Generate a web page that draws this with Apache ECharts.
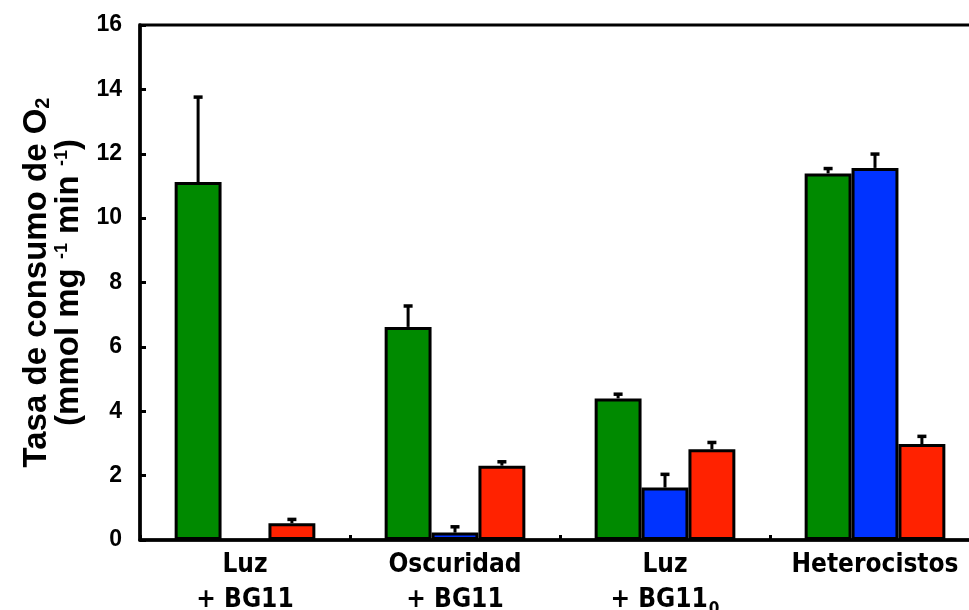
<!DOCTYPE html>
<html>
<head>
<meta charset="utf-8">
<style>
  html, body { margin: 0; padding: 0; background: #fff; overflow: hidden; }
  #chart { width: 969px; height: 610px; }
</style>
<script src="https://cdn.jsdelivr.net/npm/echarts@6/dist/echarts.min.js"></script>
</head>
<body>
<div id="chart"></div>
<script>
// Categories (first line, second line, subscript on second line)
const categories = ['Luz', 'Oscuridad', 'Luz', 'Heterocistos'];
const categoryLine2 = ['+ BG11', '+ BG11', '+ BG11', ''];
const categorySub = ['', '', '0', ''];

// O2 consumption rates (mmol mg-1 min-1) and their standard errors
const greenValues = [11.12, 6.62, 4.40, 11.39];
const greenErrors = [2.64, 0.65, 0.13, 0.15];
const blueValues = [null, 0.23, 1.63, 11.56];
const blueErrors = [null, 0.18, 0.41, 0.43];
const redValues = [0.52, 2.31, 2.82, 2.98];
const redErrors = [0.12, 0.12, 0.21, 0.24];

// Y axis range
const yMin = 0, yMax = 16, yStep = 2;

const GREEN = '#008a00', BLUE = '#0033ff', RED = '#ff2200';
const CAT_GAP = 0.33;

const boldFont = '"Liberation Sans", Arial, Helvetica, sans-serif';
const narrowFont = '"Liberation Sans Narrow", "DejaVu Sans Condensed", "Liberation Sans", sans-serif';

function barSeries(values, color) {
  return {
    type: 'bar',
    data: values,
    barGap: '0%',
    barCategoryGap: (CAT_GAP * 100) + '%',
    itemStyle: { color: color, borderColor: '#000', borderWidth: 3 },
    z: 3
  };
}

function errorSeries(values, errors, slot) {
  const data = [];
  values.forEach((v, i) => {
    if (v != null) data.push([i, v, v + errors[i]]);
  });
  return {
    type: 'custom',
    data: data,
    z: 2,
    encode: { x: 0, y: [1, 2] },
    renderItem: function (params, api) {
      const c = api.value(0);
      const lo = api.coord([c, api.value(1)]);
      const hi = api.coord([c, api.value(2)]);
      const band = api.size([1, 0])[0];
      const bw = band * (1 - CAT_GAP) / 3;
      const x = lo[0] + (slot - 1) * bw;
      return {
        type: 'group',
        children: [
          { type: 'line', shape: { x1: x, y1: lo[1], x2: x, y2: hi[1] },
            style: { stroke: '#000', lineWidth: 3 } },
          { type: 'line', shape: { x1: x - 4.5, y1: hi[1], x2: x + 4.5, y2: hi[1] },
            style: { stroke: '#000', lineWidth: 3.5 } }
        ]
      };
    }
  };
}

const chart = echarts.init(document.getElementById('chart'), null, { renderer: 'canvas' });

chart.setOption({
  animation: false,
  backgroundColor: '#fff',
  grid: {
    left: 140, top: 25, width: 840, height: 515,
    outerBoundsMode: 'none',
    containLabel: false,
    show: true, borderColor: '#000', borderWidth: 3, backgroundColor: 'transparent'
  },
  xAxis: {
    type: 'category',
    data: categories,
    axisLine: { lineStyle: { color: '#000', width: 3.5 } },
    axisTick: { show: true, inside: true, length: 5, lineStyle: { color: '#000', width: 3 } },
    axisLabel: {
      margin: 8,
      interval: 0,
      formatter: function (value, idx) {
        let s = '{a|' + value + '}';
        if (categoryLine2[idx]) {
          s += '\n{a|' + categoryLine2[idx] + '}';
          if (categorySub[idx]) s += '{sub|' + categorySub[idx] + '}';
        }
        return s;
      },
      rich: {
        a: { fontFamily: narrowFont, fontWeight: 'bold', fontSize: 26, color: '#000', lineHeight: 35 },
        sub: { fontFamily: narrowFont, fontWeight: 'bold', fontSize: 17, color: '#000',
               verticalAlign: 'bottom', padding: [0, 0, 0, 1] }
      }
    }
  },
  yAxis: {
    type: 'value',
    min: yMin, max: yMax, interval: yStep,
    splitLine: { show: false },
    axisLine: { show: true, lineStyle: { color: '#000', width: 3.5 } },
    axisTick: { show: true, inside: true, length: 6, lineStyle: { color: '#000', width: 3 } },
    axisLabel: { margin: 18, fontFamily: boldFont, fontWeight: 'bold', fontSize: 23, color: '#000' },
    name: '{t|Tasa de consumo de O}{s|2}\n{t|(mmol mg }{p|-1}{t| min }{p|-1}{t|)}',
    nameLocation: 'middle',
    nameRotate: 90,
    nameGap: 46,
    nameTextStyle: {
      rich: {
        t: { fontFamily: boldFont, fontWeight: 'bold', fontSize: 33, color: '#000', lineHeight: 32 },
        s: { fontFamily: boldFont, fontWeight: 'bold', fontSize: 20, color: '#000',
             verticalAlign: 'bottom' },
        p: { fontFamily: boldFont, fontWeight: 'bold', fontSize: 18, color: '#000',
             verticalAlign: 'top' }
      }
    }
  },
  series: [
    barSeries(greenValues, GREEN),
    barSeries(blueValues, BLUE),
    barSeries(redValues, RED),
    errorSeries(greenValues, greenErrors, 0),
    errorSeries(blueValues, blueErrors, 1),
    errorSeries(redValues, redErrors, 2)
  ]
});
</script>
</body>
</html>
